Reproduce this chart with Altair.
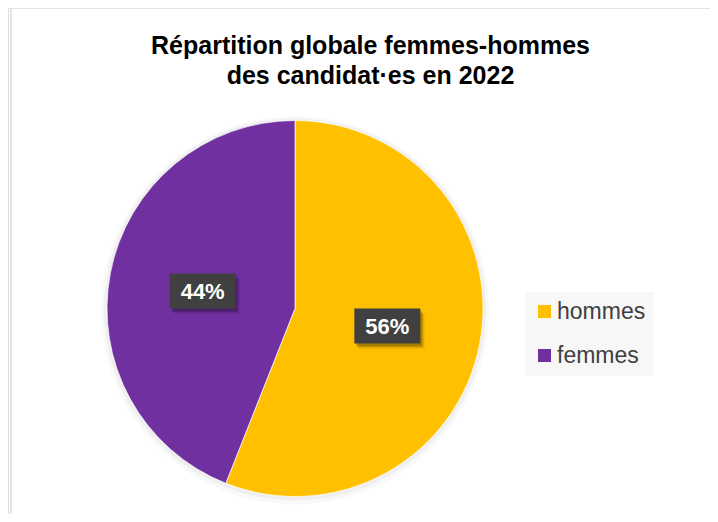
import altair as alt
import pandas as pd

# ---- data ----
CATEGORIES = ["hommes", "femmes"]
VALUES = [56, 44]
ORDER = [0, 1]
COLORS = ["#FFC000", "#7030A0"]
TITLE = ["Répartition globale femmes-hommes", "des candidat·es en 2022"]

# ---- layout constants (view coordinates) ----
W, H = 702, 506
CX, CY = 287, 300.5
R = 188
LR = 94          # label radius
BW, BH = 66, 35  # label box size
FONT = "Liberation Sans"

df = pd.DataFrame({"genre": CATEGORIES, "value": VALUES, "order": ORDER})

color = alt.Color(
    "genre:N",
    scale=alt.Scale(domain=CATEGORIES, range=COLORS),
    legend=alt.Legend(
        title=None,
        orient="none",
        legendX=517,
        legendY=284,
        symbolType="square",
        symbolSize=169,
        symbolStrokeWidth=0,
        labelFontSize=23,
        labelFont=FONT,
        labelColor="#404040",
        labelOffset=1,
        rowPadding=20,
        padding=8,
        fillColor="#F7F7F7",
    ),
)

base = alt.Chart(df)

# border
border = alt.Chart(pd.DataFrame({"k": [0]})).mark_rect(
    fill=None, stroke="#E3E3E3", strokeWidth=2
).encode(x=alt.value(3), x2=alt.value(900), y=alt.value(0), y2=alt.value(900))

# pie shadow
shadow1 = base.mark_arc(outerRadius=R + 6, color="#000000", opacity=0.025).encode(
    theta=alt.Theta("value:Q", stack=True), x=alt.value(CX), y=alt.value(CY + 2)
)
shadow2 = base.mark_arc(outerRadius=R + 3, color="#000000", opacity=0.04).encode(
    theta=alt.Theta("value:Q", stack=True), x=alt.value(CX), y=alt.value(CY + 1)
)

pie = base.mark_arc(outerRadius=R, stroke="#FFFFFF", strokeWidth=0.7).encode(
    theta=alt.Theta("value:Q", stack=True),
    color=color,
    order=alt.Order("order:Q"),
    x=alt.value(CX),
    y=alt.value(CY),
)

lab = base.transform_joinaggregate(total="sum(value)").transform_window(
    cum="sum(value)", sort=[alt.SortField("order")], frame=[None, 0]
).transform_calculate(
    mid="(datum.cum - datum.value/2) / datum.total * 2 * PI",
    lx=f"{CX} + {LR} * sin(datum.mid)",
    ly=f"{CY} - {LR} * cos(datum.mid)",
    pct="format(datum.value / datum.total, '.0%')",
).transform_calculate(
    bx1=f"datum.lx - {BW/2}",
    bx2=f"datum.lx + {BW/2}",
    by1=f"datum.ly - {BH/2}",
    by2=f"datum.ly + {BH/2}",
)

def box(dx, dy, fill, opacity):
    return lab.mark_rect(fill=fill, opacity=opacity).encode(
        x=alt.X("sx1:Q", scale=None, axis=None),
        x2="sx2:Q",
        y=alt.Y("sy1:Q", scale=None, axis=None),
        y2="sy2:Q",
    ).transform_calculate(
        sx1=f"datum.bx1 + {dx}", sx2=f"datum.bx2 + {dx}",
        sy1=f"datum.by1 + {dy}", sy2=f"datum.by2 + {dy}",
    )

box_sh1 = box(4, 5, "#000000", 0.12)
box_sh2 = box(2, 3, "#000000", 0.25)
box_main = box(0, 0, "#404040", 1)

labels = lab.mark_text(
    font=FONT, fontSize=22, fontWeight="bold", color="#FFFFFF",
    baseline="middle", align="center", dy=1,
).encode(
    x=alt.X("lx:Q", scale=None, axis=None),
    y=alt.Y("ly:Q", scale=None, axis=None),
    text="pct:N",
)

title = alt.Chart(pd.DataFrame({"k": [0]})).mark_text(
    text=TITLE, font=FONT, fontSize=25, fontWeight="bold", color="#000000",
    lineHeight=30, align="center", baseline="alphabetic",
).encode(x=alt.value(362.5), y=alt.value(45.5))

chart = alt.layer(
    border, title, shadow1, shadow2, pie, box_sh1, box_sh2, box_main, labels
).properties(
    width=W, height=H, autosize=alt.AutoSizeParams(type="none"), padding=0
).configure_view(stroke=None).configure(background="#FFFFFF")

chart.save("out.html", embed_options={"renderer": "svg", "actions": False})
